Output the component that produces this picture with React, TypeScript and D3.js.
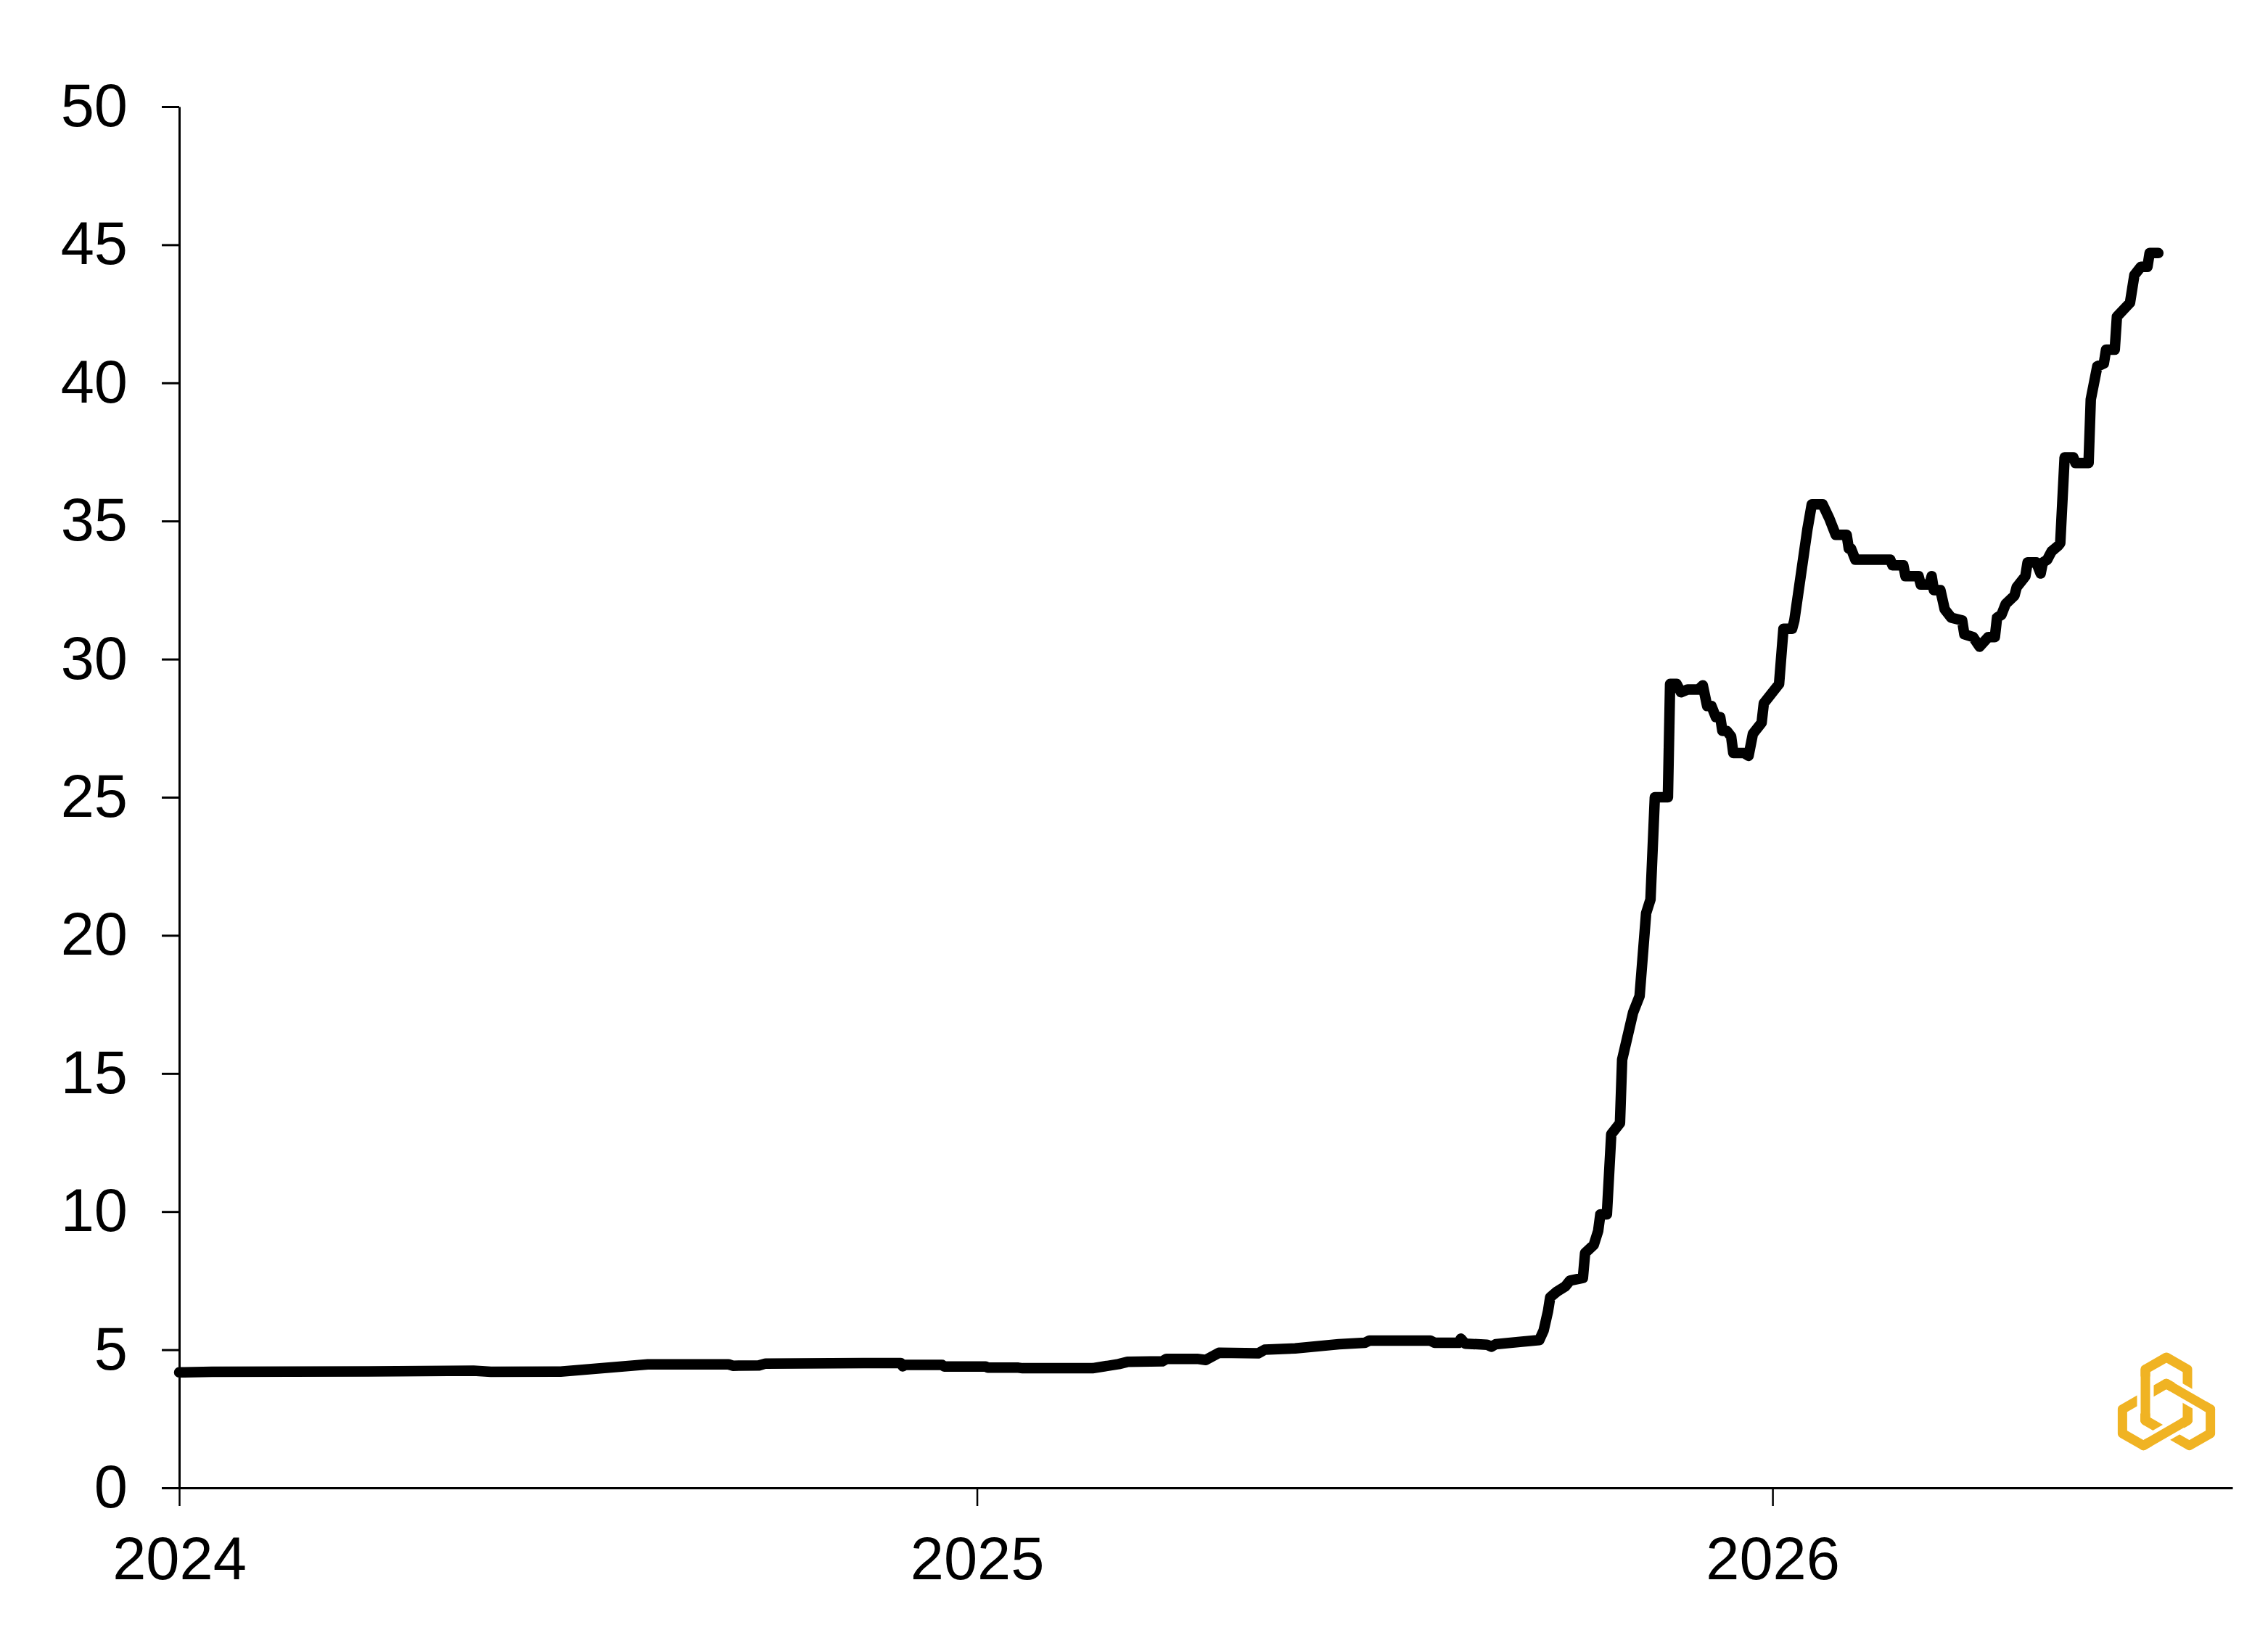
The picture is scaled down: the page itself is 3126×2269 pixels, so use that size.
// @ts-nocheck
import { useRef, useEffect } from "react";
import * as d3 from "d3";

const dates = [
  "2024-01-01", "2024-01-16", "2024-04-10", "2024-05-15", "2024-05-23", "2024-06-24",
  "2024-08-03", "2024-09-09", "2024-09-11", "2024-09-23", "2024-09-26", "2024-11-10",
  "2024-11-27", "2024-11-28", "2024-11-29", "2024-12-16", "2024-12-17", "2025-01-05",
  "2025-01-06", "2025-01-20", "2025-01-22", "2025-02-23", "2025-03-07", "2025-03-11",
  "2025-03-27", "2025-03-29", "2025-04-12", "2025-04-16", "2025-04-22", "2025-05-10",
  "2025-05-13", "2025-05-27", "2025-06-16", "2025-06-28", "2025-06-30", "2025-07-28",
  "2025-07-30", "2025-08-10", "2025-08-11", "2025-08-13", "2025-08-23", "2025-08-25",
  "2025-08-27", "2025-09-08", "2025-09-16", "2025-09-18", "2025-09-20", "2025-09-21",
  "2025-09-24", "2025-09-28", "2025-09-30", "2025-10-06", "2025-10-07", "2025-10-11",
  "2025-10-13", "2025-10-14", "2025-10-17", "2025-10-19", "2025-10-23", "2025-10-24",
  "2025-10-29", "2025-11-01", "2025-11-04", "2025-11-06", "2025-11-08", "2025-11-14",
  "2025-11-15", "2025-11-18", "2025-11-20", "2025-11-23", "2025-11-28", "2025-11-30",
  "2025-12-02", "2025-12-04", "2025-12-06", "2025-12-08", "2025-12-09", "2025-12-11",
  "2025-12-13", "2025-12-14", "2025-12-19", "2025-12-21", "2025-12-23", "2025-12-27",
  "2025-12-28", "2026-01-04", "2026-01-06", "2026-01-10", "2026-01-11", "2026-01-17",
  "2026-01-19", "2026-01-24", "2026-01-27", "2026-01-30", "2026-02-04", "2026-02-05",
  "2026-02-06", "2026-02-08", "2026-02-24", "2026-02-25", "2026-03-02", "2026-03-03",
  "2026-03-09", "2026-03-10", "2026-03-14", "2026-03-15", "2026-03-16", "2026-03-19",
  "2026-03-21", "2026-03-24", "2026-03-29", "2026-03-30", "2026-04-03", "2026-04-06",
  "2026-04-10", "2026-04-13", "2026-04-14", "2026-04-16", "2026-04-18", "2026-04-22",
  "2026-04-23", "2026-04-27", "2026-04-28", "2026-05-02", "2026-05-04", "2026-05-05",
  "2026-05-07", "2026-05-09", "2026-05-12", "2026-05-13", "2026-05-15", "2026-05-19",
  "2026-05-20", "2026-05-26", "2026-05-27", "2026-05-30", "2026-06-02", "2026-06-03",
  "2026-06-07", "2026-06-08", "2026-06-14", "2026-06-15", "2026-06-16", "2026-06-19",
  "2026-06-22", "2026-06-23", "2026-06-27",
];

const values = [
  4.18, 4.2, 4.22, 4.24, 4.2, 4.21,
  4.47, 4.47, 4.42, 4.43, 4.5, 4.52,
  4.52, 4.4, 4.45, 4.45, 4.39, 4.39,
  4.35, 4.35, 4.33, 4.33, 4.48, 4.56,
  4.58, 4.67, 4.67, 4.63, 4.89, 4.87,
  5.0, 5.05, 5.2, 5.25, 5.33, 5.33,
  5.25, 5.25, 5.4, 5.22, 5.18, 5.11,
  5.2, 5.29, 5.35, 5.7, 6.4, 6.9,
  7.1, 7.3, 7.5, 7.6, 8.5, 8.8,
  9.3, 9.9, 9.9, 12.8, 13.2, 15.5,
  17.2, 17.8, 20.8, 21.3, 25.0, 25.0,
  29.1, 29.1, 28.8, 28.9, 28.9, 29.05,
  28.3, 28.3, 27.9, 27.9, 27.4, 27.4,
  27.2, 26.6, 26.6, 26.5, 27.3, 27.7,
  28.4, 29.1, 31.1, 31.1, 31.4, 34.7,
  35.6, 35.6, 35.1, 34.5, 34.5, 34.0,
  34.0, 33.6, 33.6, 33.4, 33.4, 33.0,
  33.0, 32.7, 32.7, 33.0, 32.5, 32.5,
  31.8, 31.5, 31.4, 30.9, 30.8, 30.45,
  30.8, 30.8, 31.5, 31.6, 32.0, 32.3,
  32.6, 33.0, 33.5, 33.5, 33.1, 33.5,
  33.6, 33.9, 34.1, 34.2, 37.3, 37.3,
  37.1, 37.1, 39.4, 40.6, 40.7, 41.2,
  41.2, 42.4, 42.9, 43.4, 43.9, 44.2,
  44.2, 44.7, 44.7,
];

const yTicks = [0, 5, 10, 15, 20, 25, 30, 35, 40, 45, 50];
const xTickYears = ["2024-01-01", "2025-01-01", "2026-01-01"];

const LineChart = ({ width = 3126, height = 2269 }) => {
  const svgRef = useRef();

  useEffect(() => {
    const svg = d3.select(svgRef.current);
    svg.selectAll("*").remove();

    const parse = d3.timeParse("%Y-%m-%d");
    const data = dates.map((d, i) => ({ date: parse(d), value: values[i] }));

    const x = d3
      .scaleTime()
      .domain([parse("2024-01-01"), parse("2026-07-31")])
      .range([247, 3077]);

    const y = d3.scaleLinear().domain([0, 50]).range([2051, 147]);

    svg.attr("width", width).attr("height", height);
    svg.append("rect").attr("width", width).attr("height", height).attr("fill", "#fff");

    const font = "'Liberation Sans', Arial, sans-serif";

    // eje Y
    const yAxis = svg
      .append("g")
      .attr("transform", "translate(247,0)")
      .call(d3.axisLeft(y).tickValues(yTicks).tickSize(24).tickSizeOuter(0).tickPadding(47));
    yAxis.select(".domain").attr("stroke", "#000").attr("stroke-width", 3);
    yAxis.selectAll(".tick line").attr("stroke", "#000").attr("stroke-width", 3);
    yAxis
      .selectAll(".tick text")
      .attr("font-family", font)
      .attr("font-size", 83)
      .attr("fill", "#000");

    // eje X
    const xAxis = svg
      .append("g")
      .attr("transform", "translate(0,2051)")
      .call(
        d3
          .axisBottom(x)
          .tickValues(xTickYears.map(parse))
          .tickFormat(d3.timeFormat("%Y"))
          .tickSize(25)
          .tickSizeOuter(0)
          .tickPadding(42)
      );
    xAxis.select(".domain").attr("stroke", "#000").attr("stroke-width", 3);
    xAxis.selectAll(".tick line").attr("stroke", "#000").attr("stroke-width", 2.5);
    xAxis
      .selectAll(".tick text")
      .attr("font-family", font)
      .attr("font-size", 83)
      .attr("fill", "#000");

    // linea
    const line = d3
      .line()
      .x((d) => x(d.date))
      .y((d) => y(d.value));

    svg
      .append("path")
      .datum(data)
      .attr("d", line)
      .attr("fill", "none")
      .attr("stroke", "#000")
      .attr("stroke-width", 14.5)
      .attr("stroke-linejoin", "round")
      .attr("stroke-linecap", "round");

    // logo: tres hexagonos entrelazados
    const gold = "#F0B323";
    const cx = 2986;
    const cy = 1941;
    const w = 29;
    const h = 52;
    const d = 18;
    const sw = 13;
    const s = w * Math.tan(Math.PI / 6);
    const hy = cy - d;
    const hex = [
      [cx, hy - h],
      [cx + w, hy - h + s],
      [cx + w, hy + h - s],
      [cx, hy + h],
      [cx - w, hy + h - s],
      [cx - w, hy - h + s],
    ];
    const hexPath = "M" + hex.map((p) => p.join(",")).join("L") + "Z";
    const logo = svg.append("g");
    [0, 120, 240].forEach((a) => {
      logo
        .append("path")
        .attr("d", hexPath)
        .attr("transform", `rotate(${a},${cx},${cy})`)
        .attr("fill", "none")
        .attr("stroke", gold)
        .attr("stroke-width", sw)
        .attr("stroke-linejoin", "round");
    });
    // lado izquierdo de cada hexagono pasa por encima
    const p4 = hex[4];
    const p5 = hex[5];
    const lerp = (t) => [p4[0] + (p5[0] - p4[0]) * t, p4[1] + (p5[1] - p4[1]) * t];
    [0, 120, 240].forEach((a) => {
      const a1 = lerp(0.14);
      const a2 = lerp(0.86);
      logo
        .append("line")
        .attr("x1", a1[0])
        .attr("y1", a1[1])
        .attr("x2", a2[0])
        .attr("y2", a2[1])
        .attr("transform", `rotate(${a},${cx},${cy})`)
        .attr("stroke", "#fff")
        .attr("stroke-width", sw + 10);
      logo
        .append("line")
        .attr("x1", p4[0])
        .attr("y1", p4[1])
        .attr("x2", p5[0])
        .attr("y2", p5[1])
        .attr("transform", `rotate(${a},${cx},${cy})`)
        .attr("stroke", gold)
        .attr("stroke-width", sw)
        .attr("stroke-linecap", "round");
    });
  }, []);

  return <svg ref={svgRef} style={{ position: "absolute", left: 0, top: 0, display: "block" }}></svg>;
};

export default function App() {
  return <LineChart />;
}
